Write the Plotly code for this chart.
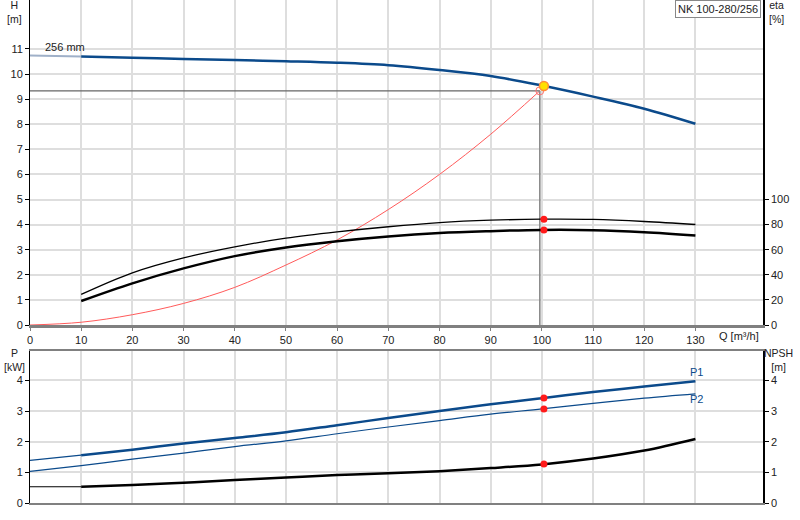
import plotly.graph_objects as go

# ---------------- data ----------------
q = [0, 10, 20, 30, 40, 50, 60, 70, 80, 90, 100, 110, 120, 130]
head = [10.74, 10.70, 10.65, 10.60, 10.56, 10.51, 10.45, 10.35, 10.16, 9.92, 9.54, 9.10, 8.62, 8.02]

q_eta = [10, 20, 30, 40, 50, 60, 70, 80, 90, 100, 110, 120, 130]
eta_upper = [24.4, 41.6, 53.5, 62.3, 69.2, 74.2, 78.3, 81.6, 83.5, 84.3, 84.1, 82.5, 80.1]
eta_lower = [19.1, 33.2, 45.1, 54.9, 61.8, 66.8, 70.6, 73.3, 74.8, 75.8, 75.6, 74.0, 71.4]

q_sys = [0, 10, 20, 30, 40, 50, 60, 70, 80, 90, 99.6]
h_sys = [0.0, 0.11, 0.41, 0.86, 1.50, 2.39, 3.39, 4.60, 6.00, 7.60, 9.33]

p1 = [1.39, 1.56, 1.74, 1.94, 2.12, 2.31, 2.54, 2.77, 3.00, 3.22, 3.42, 3.62, 3.80, 3.97]
p2 = [1.03, 1.22, 1.43, 1.63, 1.84, 2.03, 2.26, 2.48, 2.69, 2.90, 3.07, 3.25, 3.42, 3.56]
npsh = [0.53, 0.53, 0.59, 0.66, 0.75, 0.83, 0.91, 0.97, 1.04, 1.14, 1.26, 1.45, 1.71, 2.09]

duty_q = 100.4
duty_h = 9.52
duty_eta = [84.3, 75.8]
duty_p1 = 3.43
duty_p2 = 3.07
duty_npsh = 1.27
req_q = 99.6
req_h = 9.33

x_ticks = [0, 10, 20, 30, 40, 50, 60, 70, 80, 90, 100, 110, 120, 130]
h_ticks = [0, 1, 2, 3, 4, 5, 6, 7, 8, 9, 10, 11]
eta_ticks = [0, 20, 40, 60, 80, 100]
p_ticks = [0, 1, 2, 3, 4]

# ---------------- styles ----------------
BLUE = "#0b4a8b"
FONT = "Liberation Sans"
GRID = "#dedede"

W, H = 800, 520
ML, MR, MT, MB = 30, 37, 0, 17
PW = W - ML - MR
PH = H - MT - MB


def px(xp):
    return (xp - ML) / PW


def py(yp):
    return (H - MB - yp) / PH


fig = go.Figure()

# --- top panel ---
fig.add_trace(go.Scatter(x=q[:2], y=head[:2], mode="lines", xaxis="x", yaxis="y",
                         line=dict(color="#9fb0c8", width=2), hoverinfo="skip"))
fig.add_trace(go.Scatter(x=q[1:], y=head[1:], mode="lines", xaxis="x", yaxis="y",
                         line=dict(color=BLUE, width=2.5, shape="spline")))
fig.add_trace(go.Scatter(x=q_sys, y=h_sys, mode="lines", xaxis="x", yaxis="y",
                         line=dict(color="#ff5a5a", width=1, shape="spline")))
# crosshair
fig.add_trace(go.Scatter(x=[0, req_q], y=[req_h, req_h], mode="lines",
                         xaxis="x", yaxis="y", line=dict(color="#666666", width=1.2)))
fig.add_trace(go.Scatter(x=[req_q, req_q], y=[req_h, 0], mode="lines",
                         xaxis="x", yaxis="y", line=dict(color="#8a8a8a", width=1.6)))
fig.add_trace(go.Scatter(x=[req_q], y=[req_h], mode="markers", xaxis="x", yaxis="y",
                         marker=dict(symbol="circle-open", size=8, color="#ff7070",
                                     line=dict(width=1, color="#ff7070"))))
fig.add_trace(go.Scatter(x=[duty_q], y=[duty_h], mode="markers", xaxis="x", yaxis="y",
                         marker=dict(symbol="circle", size=9, color="#ffe000",
                                     line=dict(width=1.5, color="#ff8c3a"))))
# efficiency
fig.add_trace(go.Scatter(x=q_eta, y=eta_upper, mode="lines", xaxis="x", yaxis="y2",
                         line=dict(color="black", width=1.3, shape="spline")))
fig.add_trace(go.Scatter(x=q_eta, y=eta_lower, mode="lines", xaxis="x", yaxis="y2",
                         line=dict(color="black", width=2.5, shape="spline")))
fig.add_trace(go.Scatter(x=[duty_q, duty_q], y=duty_eta, mode="markers", xaxis="x", yaxis="y2",
                         marker=dict(size=7, color="#ff1a1a")))

# --- bottom panel ---
fig.add_trace(go.Scatter(x=q[:2], y=p1[:2], mode="lines", xaxis="x2", yaxis="y3",
                         line=dict(color=BLUE, width=1.3)))
fig.add_trace(go.Scatter(x=q[1:], y=p1[1:], mode="lines", xaxis="x2", yaxis="y3",
                         line=dict(color=BLUE, width=2.5, shape="spline")))
fig.add_trace(go.Scatter(x=q, y=p2, mode="lines", xaxis="x2", yaxis="y3",
                         line=dict(color=BLUE, width=1.2, shape="spline")))
fig.add_trace(go.Scatter(x=q[:2], y=npsh[:2], mode="lines", xaxis="x2", yaxis="y4",
                         line=dict(color="black", width=1.2)))
fig.add_trace(go.Scatter(x=q[1:], y=npsh[1:], mode="lines", xaxis="x2", yaxis="y4",
                         line=dict(color="black", width=2.5, shape="spline")))
fig.add_trace(go.Scatter(x=[duty_q, duty_q], y=[duty_p1, duty_p2], mode="markers",
                         xaxis="x2", yaxis="y3", marker=dict(size=7, color="#ff1a1a")))
fig.add_trace(go.Scatter(x=[duty_q], y=[duty_npsh], mode="markers",
                         xaxis="x2", yaxis="y4", marker=dict(size=7, color="#ff1a1a")))

X_MAX = 143.2
H_MAX = 12.95
ETA_MAX = H_MAX * 20
P_MAX = 4.96

top_dom = [py(325), 1.0]
bot_dom = [0.0, py(351)]

tickfont = dict(family=FONT, size=11, color="#222222")

fig.update_layout(
    width=W, height=H,
    margin=dict(l=ML, r=MR, t=MT, b=MB, autoexpand=False),
    paper_bgcolor="white", plot_bgcolor="white",
    showlegend=False,
    font=dict(family=FONT, size=11, color="#222222"),
    xaxis=dict(domain=[0, 1], anchor="y", range=[0, X_MAX], tickvals=x_ticks,
               automargin=False,
               showgrid=True, gridcolor=GRID, gridwidth=1.5, zeroline=False,
               showline=True, linecolor="#808080", linewidth=2.5, mirror=False,
               ticks="outside", ticklen=3, tickcolor="#808080", tickfont=tickfont),
    yaxis=dict(domain=top_dom, anchor="x", range=[0, H_MAX], tickvals=h_ticks,
               automargin=False,
               showgrid=True, gridcolor=GRID, gridwidth=1.5, zeroline=False,
               showline=True, linecolor="black", linewidth=1,
               ticks="outside", ticklen=4, tickcolor="black", tickfont=tickfont),
    yaxis2=dict(overlaying="y", side="right", anchor="x", range=[0, ETA_MAX],
                automargin=False,
                tickvals=eta_ticks, showgrid=False, zeroline=False,
                showline=True, linecolor="black", linewidth=1.5,
                ticks="outside", ticklen=4, tickcolor="black", tickfont=tickfont),
    xaxis2=dict(domain=[0, 1], anchor="y3", range=[0, X_MAX], tickvals=x_ticks,
                automargin=False, showticklabels=False,
                showgrid=True, gridcolor=GRID, gridwidth=1.5, zeroline=False,
                showline=True, linecolor="#808080", linewidth=2, mirror=True,
                ticks=""),
    yaxis3=dict(domain=bot_dom, anchor="x2", range=[0, P_MAX], tickvals=p_ticks,
                automargin=False,
                showgrid=True, gridcolor=GRID, gridwidth=1.5, zeroline=False,
                showline=True, linecolor="black", linewidth=1,
                ticks="outside", ticklen=4, tickcolor="black", tickfont=tickfont),
    yaxis4=dict(overlaying="y3", side="right", anchor="x2", range=[0, P_MAX],
                automargin=False,
                tickvals=p_ticks, showgrid=False, zeroline=False,
                showline=True, linecolor="black", linewidth=1.5,
                ticks="outside", ticklen=4, tickcolor="black", tickfont=tickfont),
)

small = dict(family=FONT, size=10.5, color="#222222")
ann = [
    dict(text="H<br>[m]", x=px(14), y=1.0, xanchor="center", yanchor="top", yshift=3),
    dict(text="eta<br>[%]", x=px(776), y=1.0, xanchor="center", yanchor="top", yshift=3),
    dict(text="P<br>[kW]", x=px(14), y=py(348), xanchor="center", yanchor="top", yshift=3),
    dict(text="NPSH<br>[m]", x=px(778), y=py(348), xanchor="center", yanchor="top", yshift=3),
    dict(text="Q [m³/h]", x=px(739), y=py(336), xanchor="center", yanchor="middle",
         font=dict(family=FONT, size=11, color="#222222")),
]
for a in ann:
    a.setdefault("font", small)
    a.update(xref="paper", yref="paper", showarrow=False)
    fig.add_annotation(**a)

fig.add_annotation(text="NK 100-280/256", xref="paper", yref="paper",
                   x=px(761), y=1.0, xanchor="right", yanchor="top", showarrow=False,
                   bordercolor="#888888", borderwidth=1, borderpad=2, bgcolor="white",
                   font=dict(family=FONT, size=11, color="#222222"))
fig.add_annotation(text="256 mm", xref="x", yref="y", x=6.8, y=11.08,
                   showarrow=False, font=dict(family=FONT, size=11, color="#222222"))
fig.add_annotation(text="P1", xref="x2", yref="y3", x=130.2, y=4.29,
                   showarrow=False, font=dict(family=FONT, size=11, color=BLUE))
fig.add_annotation(text="P2", xref="x2", yref="y3", x=130.2, y=3.38,
                   showarrow=False, font=dict(family=FONT, size=11, color=BLUE))

fig.write_html("out.html",
               config={"displayModeBar": False},
               post_script="document.body.style.margin='0';document.body.style.overflow='hidden';")
